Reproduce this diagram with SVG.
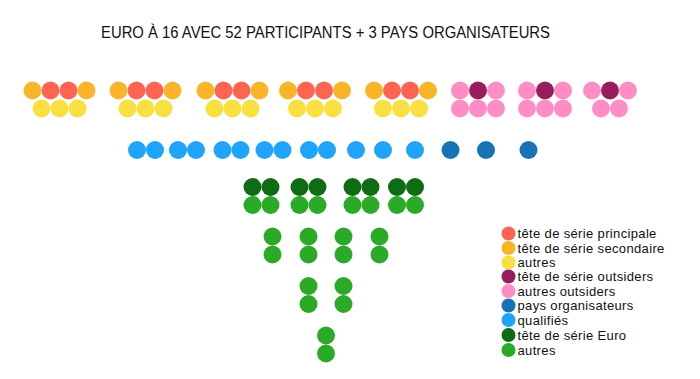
<svg xmlns="http://www.w3.org/2000/svg" width="700" height="379" viewBox="0 0 700 379">
<style>
.r{fill:#FF6452}.o{fill:#F9B428}.y{fill:#F9DF3F}.p{fill:#961E5E}.k{fill:#FF8DC5}.db{fill:#1673B6}.b{fill:#1EA4FB}.dg{fill:#0D6C14}.g{fill:#2AAA27}
text{font-family:"Liberation Sans",Arial,sans-serif;fill:#111}
.t{font-size:16px}
.l{font-size:13px;letter-spacing:0.35px}
</style>
<rect width="700" height="379" fill="#fff"/>
<text class="t" x="101" y="38" textLength="449" lengthAdjust="spacingAndGlyphs">EURO À 16 AVEC 52 PARTICIPANTS + 3 PAYS ORGANISATEURS</text>
<g id="groups-top">
<g id="g1"><circle class="o" cx="32.5" cy="90.5" r="9"/><circle class="r" cx="50.5" cy="90.5" r="9"/><circle class="r" cx="68.5" cy="90.5" r="9"/><circle class="o" cx="86.5" cy="90.5" r="9"/><circle class="y" cx="41.5" cy="108.5" r="9"/><circle class="y" cx="59.5" cy="108.5" r="9"/><circle class="y" cx="77.5" cy="108.5" r="9"/></g>
<g id="g2"><circle class="o" cx="118.5" cy="90.5" r="9"/><circle class="r" cx="136.5" cy="90.5" r="9"/><circle class="r" cx="154.5" cy="90.5" r="9"/><circle class="o" cx="172.5" cy="90.5" r="9"/><circle class="y" cx="127.5" cy="108.5" r="9"/><circle class="y" cx="145.5" cy="108.5" r="9"/><circle class="y" cx="163.5" cy="108.5" r="9"/></g>
<g id="g3"><circle class="o" cx="205.5" cy="90.5" r="9"/><circle class="r" cx="223.5" cy="90.5" r="9"/><circle class="r" cx="241.5" cy="90.5" r="9"/><circle class="o" cx="259.5" cy="90.5" r="9"/><circle class="y" cx="214.5" cy="108.5" r="9"/><circle class="y" cx="232.5" cy="108.5" r="9"/><circle class="y" cx="250.5" cy="108.5" r="9"/></g>
<g id="g4"><circle class="o" cx="288" cy="90.5" r="9"/><circle class="r" cx="306" cy="90.5" r="9"/><circle class="r" cx="324" cy="90.5" r="9"/><circle class="o" cx="342" cy="90.5" r="9"/><circle class="y" cx="297" cy="108.5" r="9"/><circle class="y" cx="315" cy="108.5" r="9"/><circle class="y" cx="333" cy="108.5" r="9"/></g>
<g id="g5"><circle class="o" cx="374" cy="90.5" r="9"/><circle class="r" cx="392" cy="90.5" r="9"/><circle class="r" cx="410" cy="90.5" r="9"/><circle class="o" cx="428" cy="90.5" r="9"/><circle class="y" cx="383" cy="108.5" r="9"/><circle class="y" cx="401" cy="108.5" r="9"/><circle class="y" cx="419" cy="108.5" r="9"/></g>
<g id="g6"><circle class="k" cx="460" cy="90.5" r="9"/><circle class="p" cx="478" cy="90.5" r="9"/><circle class="k" cx="496" cy="90.5" r="9"/><circle class="k" cx="460" cy="108.5" r="9"/><circle class="k" cx="478" cy="108.5" r="9"/><circle class="k" cx="496" cy="108.5" r="9"/></g>
<g id="g7"><circle class="k" cx="527" cy="90.5" r="9"/><circle class="p" cx="545" cy="90.5" r="9"/><circle class="k" cx="563" cy="90.5" r="9"/><circle class="k" cx="527" cy="108.5" r="9"/><circle class="k" cx="545" cy="108.5" r="9"/><circle class="k" cx="563" cy="108.5" r="9"/></g>
<g id="g8"><circle class="k" cx="592" cy="90.5" r="9"/><circle class="p" cx="610" cy="90.5" r="9"/><circle class="k" cx="628" cy="90.5" r="9"/><circle class="k" cx="601" cy="108.5" r="9"/><circle class="k" cx="619" cy="108.5" r="9"/></g>
</g>
<g id="row-blue">
<circle class="b" cx="137" cy="150" r="9"/><circle class="b" cx="155" cy="150" r="9"/>
<circle class="b" cx="178" cy="150" r="9"/><circle class="b" cx="196" cy="150" r="9"/>
<circle class="b" cx="222.5" cy="150" r="9"/><circle class="b" cx="240.5" cy="150" r="9"/>
<circle class="b" cx="264.5" cy="150" r="9"/><circle class="b" cx="282.5" cy="150" r="9"/>
<circle class="b" cx="309" cy="150" r="9"/><circle class="b" cx="327" cy="150" r="9"/>
<circle class="b" cx="356" cy="150" r="9"/><circle class="b" cx="383" cy="150" r="9"/><circle class="b" cx="415" cy="150" r="9"/>
<circle class="db" cx="450.5" cy="150" r="9"/><circle class="db" cx="486" cy="150" r="9"/><circle class="db" cx="528.5" cy="150" r="9"/>
</g>
<g id="bracket-green">
<circle class="dg" cx="252.5" cy="187" r="9"/><circle class="dg" cx="270.5" cy="187" r="9"/><circle class="g" cx="252.5" cy="205" r="9"/><circle class="g" cx="270.5" cy="205" r="9"/>
<circle class="dg" cx="299.5" cy="187" r="9"/><circle class="dg" cx="317.5" cy="187" r="9"/><circle class="g" cx="299.5" cy="205" r="9"/><circle class="g" cx="317.5" cy="205" r="9"/>
<circle class="dg" cx="352.5" cy="187" r="9"/><circle class="dg" cx="370.5" cy="187" r="9"/><circle class="g" cx="352.5" cy="205" r="9"/><circle class="g" cx="370.5" cy="205" r="9"/>
<circle class="dg" cx="397" cy="187" r="9"/><circle class="dg" cx="415" cy="187" r="9"/><circle class="g" cx="397" cy="205" r="9"/><circle class="g" cx="415" cy="205" r="9"/>
<circle class="g" cx="272.5" cy="236.5" r="9"/><circle class="g" cx="272.5" cy="254.5" r="9"/>
<circle class="g" cx="308.5" cy="236.5" r="9"/><circle class="g" cx="308.5" cy="254.5" r="9"/>
<circle class="g" cx="343.5" cy="236.5" r="9"/><circle class="g" cx="343.5" cy="254.5" r="9"/>
<circle class="g" cx="379.5" cy="236.5" r="9"/><circle class="g" cx="379.5" cy="254.5" r="9"/>
<circle class="g" cx="308.5" cy="286" r="9"/><circle class="g" cx="308.5" cy="304" r="9"/>
<circle class="g" cx="343.5" cy="286" r="9"/><circle class="g" cx="343.5" cy="304" r="9"/>
<circle class="g" cx="326" cy="335.5" r="9"/><circle class="g" cx="326" cy="353.5" r="9"/>
</g>
<g id="legend">
<circle class="r" cx="508.5" cy="233.5" r="7"/><text class="l" x="517.5" y="238">tête de série principale</text>
<circle class="o" cx="508.5" cy="248" r="7"/><text class="l" x="517.5" y="252.5">tête de série secondaire</text>
<circle class="y" cx="508.5" cy="262.5" r="7"/><text class="l" x="517.5" y="267">autres</text>
<circle class="p" cx="508.5" cy="276.5" r="7"/><text class="l" x="517.5" y="281">tête de série outsiders</text>
<circle class="k" cx="508.5" cy="291" r="7"/><text class="l" x="517.5" y="295.5">autres outsiders</text>
<circle class="db" cx="508.5" cy="305.5" r="7"/><text class="l" x="517.5" y="310">pays organisateurs</text>
<circle class="b" cx="508.5" cy="320" r="7"/><text class="l" x="517.5" y="324.5">qualifiés</text>
<circle class="dg" cx="508.5" cy="335" r="7"/><text class="l" x="517.5" y="339.5">tête de série Euro</text>
<circle class="g" cx="508.5" cy="350" r="7"/><text class="l" x="517.5" y="354.5">autres</text>
</g>
</svg>
